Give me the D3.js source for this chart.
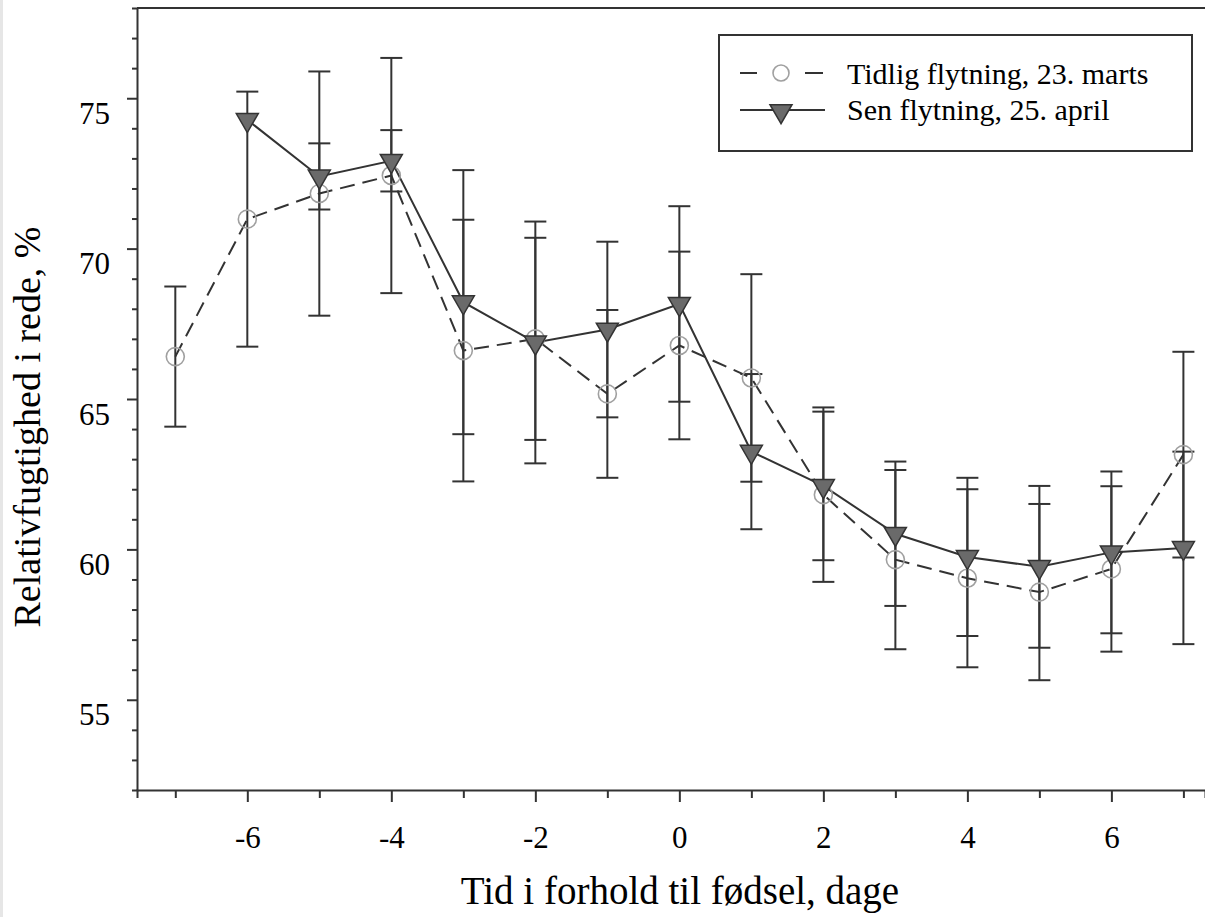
<!DOCTYPE html>
<html>
<head>
<meta charset="utf-8">
<script src="https://cdn.jsdelivr.net/npm/d3@7"></script>
<style>
  body { margin: 0; background: #fff; }
  text { font-family: "Liberation Serif", "Times New Roman", serif; fill: #000; }
</style>
</head>
<body>
<div id="chart"></div>
<script>
const days = [-7, -6, -5, -4, -3, -2, -1, 0, 1, 2, 3, 4, 5, 6, 7];
const earlyMean = [66.41, 70.98, 71.83, 72.43, 66.61, 67.0, 65.17, 66.78, 65.7, 61.82, 59.66, 59.04, 58.58, 59.35, 63.15];
const earlyErr = [2.33, 4.24, 4.06, 3.91, 4.35, 3.36, 2.79, 3.12, 3.45, 2.9, 2.98, 2.96, 2.93, 2.75, 3.42];
const lateMean = [null, 74.28, 72.4, 72.92, 68.22, 66.88, 67.31, 68.16, 63.25, 62.11, 60.52, 59.75, 59.42, 59.9, 60.05];
const lateErr = [null, null, 1.1, 1.02, 4.39, 4.02, 2.92, 3.25, 2.58, 2.47, 2.4, 2.63, 2.69, 2.69, 3.2];
const yTicks = d3.range(53, 78);
const yLabels = [55, 60, 65, 70, 75];
const xLabels = [-6, -4, -2, 0, 2, 4, 6];
const seriesNames = ["Tidlig flytning, 23. marts", "Sen flytning, 25. april"];

const width = 1205, height = 917;
const margins = { top: 8, right: 0, bottom: 127, left: 137 };

const svg = d3.select("#chart").append("svg")
  .attr("width", width)
  .attr("height", height);

svg.append("rect").attr("x", 0).attr("y", 0).attr("width", 3).attr("height", height).attr("fill", "#e6e6e6");

const xScale = d3.scaleLinear().domain([-7.532, 7.3]).range([margins.left, width - margins.right]);
const yScale = d3.scaleLinear().domain([52, 78]).range([height - margins.bottom, margins.top]);

// top frame line
svg.append("line")
  .attr("x1", margins.left).attr("x2", width)
  .attr("y1", margins.top).attr("y2", margins.top)
  .attr("stroke", "#333").attr("stroke-width", 2);

// y axis
const yAxis = svg.append("g")
  .attr("transform", `translate(${margins.left},0)`)
  .call(d3.axisLeft(yScale)
    .tickValues(yTicks)
    .tickSize(5)
    .tickPadding(22)
    .tickFormat(d => yLabels.includes(d) ? String(d) : ""));
yAxis.select(".domain").attr("stroke", "#333").attr("stroke-width", 2);
yAxis.selectAll(".tick line").attr("stroke", "#333").attr("stroke-width", 2)
  .attr("x2", d => yLabels.includes(d) ? -10 : -5);
yAxis.selectAll(".tick text")
  .attr("font-size", 31)
  .attr("font-family", "Liberation Serif")
  .attr("dy", 0)
  .attr("y", 25);

// x axis
const xAxis = svg.append("g")
  .attr("transform", `translate(0,${height - margins.bottom})`)
  .call(d3.axisBottom(xScale)
    .tickValues(days)
    .tickSize(8)
    .tickFormat(d => xLabels.includes(d) ? String(d) : ""));
xAxis.select(".domain").attr("stroke", "#333").attr("stroke-width", 2);
xAxis.selectAll(".tick line").attr("stroke", "#333").attr("stroke-width", 2)
  .attr("y2", d => xLabels.includes(d) ? 12 : 8);
xAxis.selectAll(".tick text")
  .attr("font-size", 31)
  .attr("font-family", "Liberation Serif")
  .attr("dy", 0)
  .attr("y", 58);

// axis titles
svg.append("text")
  .attr("x", 680).attr("y", 904)
  .attr("text-anchor", "middle")
  .attr("font-size", 39)
  .text("Tid i forhold til fødsel, dage");

svg.append("text")
  .attr("transform", "translate(40,427) rotate(-90)")
  .attr("text-anchor", "middle")
  .attr("font-size", 38)
  .text("Relativfugtighed i rede, %");

const early = days.map((d, i) => ({ x: d, y: earlyMean[i], e: earlyErr[i] }));
const late = days.map((d, i) => ({ x: d, y: lateMean[i], e: lateErr[i] })).filter(d => d.y != null);

const line = d3.line().x(d => xScale(d.x)).y(d => yScale(d.y));
const capW = 11;

function errorBars(data, cls) {
  const g = svg.append("g").attr("class", cls);
  const bars = data.filter(d => d.e);
  g.selectAll("line.stem").data(bars).enter().append("line")
    .attr("x1", d => xScale(d.x)).attr("x2", d => xScale(d.x))
    .attr("y1", d => yScale(d.y + d.e)).attr("y2", d => yScale(d.y - d.e))
    .attr("stroke", "#333").attr("stroke-width", 2);
  ["top", "bottom"].forEach(side => {
    g.selectAll("line." + side).data(bars).enter().append("line")
      .attr("x1", d => xScale(d.x) - capW).attr("x2", d => xScale(d.x) + capW)
      .attr("y1", d => yScale(side === "top" ? d.y + d.e : d.y - d.e))
      .attr("y2", d => yScale(side === "top" ? d.y + d.e : d.y - d.e))
      .attr("stroke", "#333").attr("stroke-width", 2);
  });
}

svg.append("path").datum(early)
  .attr("d", line).attr("fill", "none")
  .attr("stroke", "#333").attr("stroke-width", 2)
  .attr("stroke-dasharray", "15,8");
errorBars(early, "early-err");

svg.append("path").datum(late)
  .attr("d", line).attr("fill", "none")
  .attr("stroke", "#333").attr("stroke-width", 2);
errorBars(late, "late-err");

svg.selectAll("circle.early").data(early).enter().append("circle")
  .attr("cx", d => xScale(d.x)).attr("cy", d => yScale(d.y))
  .attr("r", 9).attr("fill", "none")
  .attr("stroke", "#a0a0a0").attr("stroke-width", 1.6);

const tri = d3.symbol().type(d3.symbolTriangle).size(210);
svg.selectAll("path.late").data(late).enter().append("path")
  .attr("d", tri)
  .attr("transform", d => `translate(${xScale(d.x)},${yScale(d.y)}) rotate(180)`)
  .attr("fill", "#6a6a6a").attr("stroke", "#333").attr("stroke-width", 1.5);

// legend
const lg = svg.append("g");
lg.append("rect")
  .attr("x", 719).attr("y", 35).attr("width", 473).attr("height", 116)
  .attr("fill", "#fff").attr("stroke", "#333").attr("stroke-width", 2);
lg.append("line")
  .attr("x1", 740).attr("x2", 823).attr("y1", 73).attr("y2", 73)
  .attr("stroke", "#333").attr("stroke-width", 2)
  .attr("stroke-dasharray", "17,48,18");
lg.append("circle").attr("cx", 781).attr("cy", 73).attr("r", 8)
  .attr("fill", "none").attr("stroke", "#a0a0a0").attr("stroke-width", 1.6);
lg.append("line")
  .attr("x1", 740).attr("x2", 825).attr("y1", 110).attr("y2", 110)
  .attr("stroke", "#333").attr("stroke-width", 2);
lg.append("path").attr("d", tri)
  .attr("transform", "translate(781,111) rotate(180)")
  .attr("fill", "#6a6a6a").attr("stroke", "#333").attr("stroke-width", 1.5);
lg.selectAll("text.name").data(seriesNames).enter().append("text")
  .attr("x", 847).attr("y", (d, i) => i === 0 ? 84 : 120)
  .attr("font-size", 30)
  .text(d => d);
</script>
</body>
</html>
